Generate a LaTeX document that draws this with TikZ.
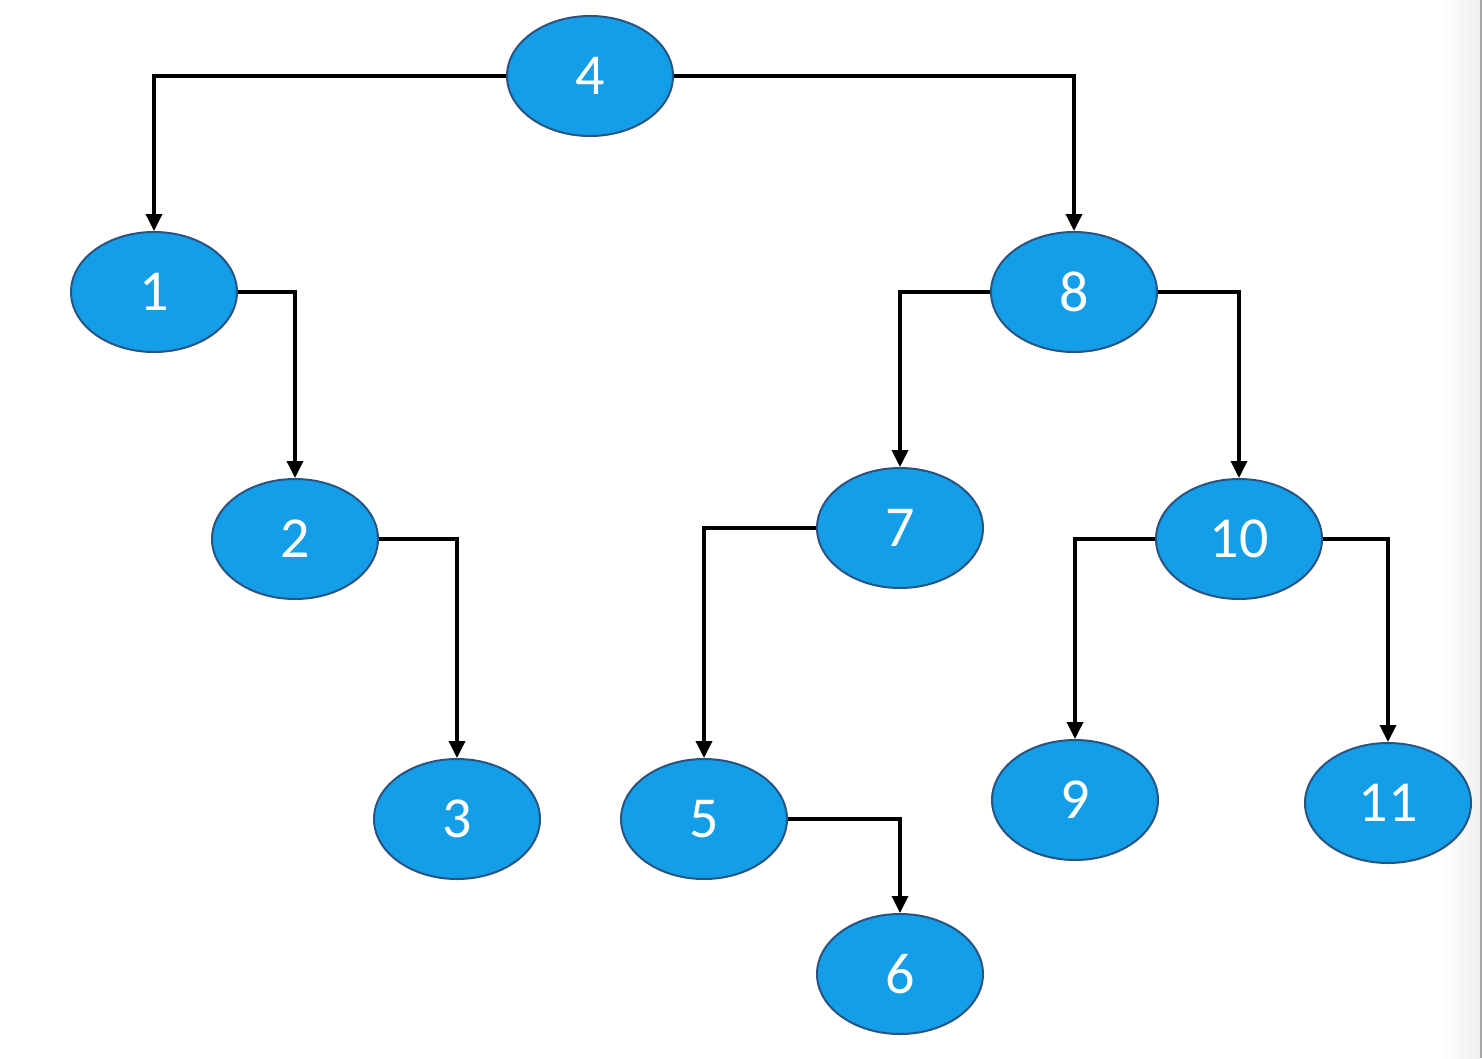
\documentclass[tikz,border=0pt]{standalone}
\usepackage{fontspec}
\setmainfont{Carlito}
\usetikzlibrary{shapes.geometric,arrows.meta}
\definecolor{nodefill}{RGB}{20,158,232}
\definecolor{nodeedge}{RGB}{40,84,130}
\tikzset{
  tnode/.style={ellipse, draw=nodeedge, line width=2pt, fill=nodefill,
    minimum width=166pt, minimum height=120pt, inner sep=0pt,
    text=white, font=\fontsize{58}{62}\selectfont},
  arr/.style={draw=black, line width=3.5pt,
    -{Triangle[length=17pt,width=16pt]}}
}
\begin{document}
\begin{tikzpicture}[x=1pt,y=-1pt]
\useasboundingbox (0,0) rectangle (1482,1058);
\shade[left color=white, right color=black!6] (1440,0) rectangle (1480,1058);
\draw[black!35, line width=1.5pt] (1481,0) -- (1481,1058);
\node[tnode] (n4) at (590,76) {4};
\node[tnode] (n1) at (154,292) {1};
\node[tnode] (n8) at (1074,292) {8};
\node[tnode] (n2) at (295,539) {2};
\node[tnode] (n7) at (900,528) {7};
\node[tnode] (n10) at (1239,539) {10};
\node[tnode] (n3) at (457,819) {3};
\node[tnode] (n5) at (704,819) {5};
\node[tnode] (n9) at (1075,800) {9};
\node[tnode] (n11) at (1388,803) {11};
\node[tnode] (n6) at (900,974) {6};
\draw[arr] (n4.west) -| (n1.north);
\draw[arr] (n4.east) -| (n8.north);
\draw[arr] (n1.east) -| (n2.north);
\draw[arr] (n2.east) -| (n3.north);
\draw[arr] (n8.west) -| (n7.north);
\draw[arr] (n8.east) -| (n10.north);
\draw[arr] (n7.west) -| (n5.north);
\draw[arr] (n5.east) -| (n6.north);
\draw[arr] (n10.west) -| (n9.north);
\draw[arr] (n10.east) -| (n11.north);
\end{tikzpicture}
\end{document}
